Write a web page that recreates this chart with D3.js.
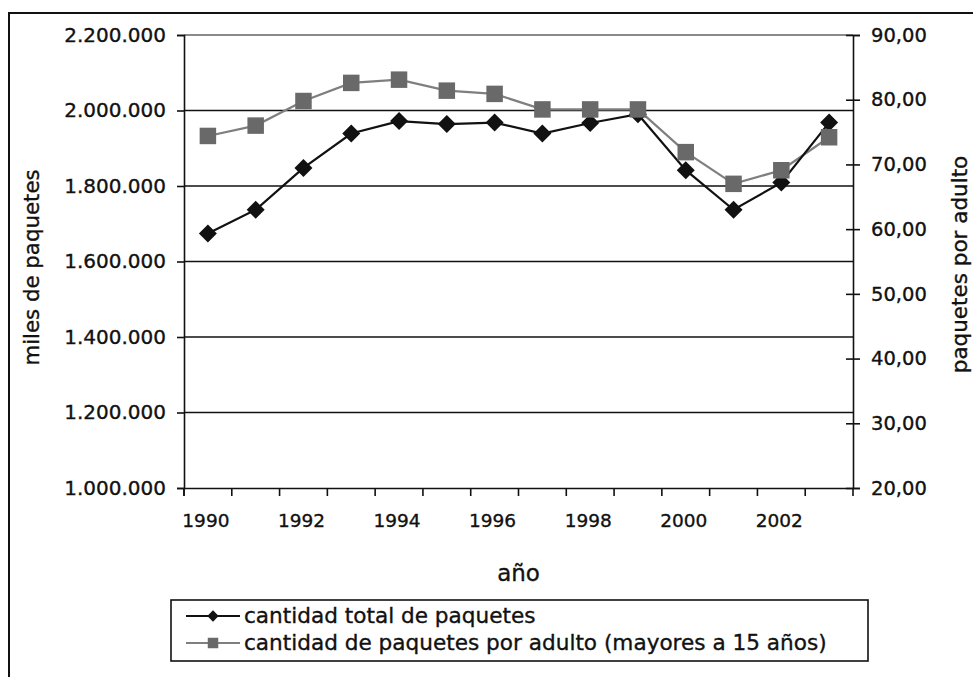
<!DOCTYPE html>
<html>
<head>
<meta charset="utf-8">
<script src="https://cdn.jsdelivr.net/npm/d3@7"></script>
<style>
  html, body { margin: 0; padding: 0; background: #fff; }
  svg { display: block; font-family: "DejaVu Sans", sans-serif; }
  text { stroke: #111; stroke-width: 0.35px; }
</style>
</head>
<body>
<svg id="chart" width="973" height="677"></svg>
<script>
const years = [1990,1991,1992,1993,1994,1995,1996,1997,1998,1999,2000,2001,2002,2003];
const totalPackets = [1674000,1737000,1848000,1939000,1972000,1964000,1968000,1939000,1967000,1990000,1842000,1737000,1809000,1968000];
const packetsPerAdult = [74.4,76.0,79.8,82.6,83.1,81.4,80.9,78.5,78.5,78.5,71.9,67.0,69.1,74.2];
const leftTicks = [1000000,1200000,1400000,1600000,1800000,2000000,2200000];
const rightTicks = [20,30,40,50,60,70,80,90];
const xLabelYears = [1990,1992,1994,1996,1998,2000,2002];
const seriesNames = ["cantidad total de paquetes", "cantidad de paquetes por adulto (mayores a 15 años)"];

const FONT = "'DejaVu Sans', sans-serif";
const svg = d3.select("#chart");
const L = 184, R = 853, T = 35, B = 488;

// outer border
svg.append("path").attr("d", `M9,677 V13 H973`).attr("fill","none").attr("stroke","#111").attr("stroke-width",2);

const x = d3.scaleBand().domain(years).range([L, R]);
const yL = d3.scaleLinear().domain([1000000, 2200000]).range([B, T]);
const yR = d3.scaleLinear().domain([20, 90]).range([B, T]);

const fmtL = d => d3.format(",")(d).replace(/,/g, ".");
const fmtR = d => d3.format(".2f")(d).replace(".", ",");

// gridlines
svg.append("g").selectAll("line").data(leftTicks.filter(t => t > 1000000 && t < 2200000)).join("line")
  .attr("x1", L).attr("x2", R).attr("y1", d => yL(d)).attr("y2", d => yL(d))
  .attr("stroke", "#111").attr("stroke-width", 1.6);
// top border gray
svg.append("line").attr("x1", L).attr("x2", R).attr("y1", T).attr("y2", T)
  .attr("stroke", "#8a8a8a").attr("stroke-width", 2);

// left axis
const gL = svg.append("g").attr("transform", `translate(${L},0)`)
  .call(d3.axisLeft(yL).tickValues(leftTicks).tickFormat(fmtL).tickSizeOuter(0).tickSize(7).tickPadding(11));
// right axis
const gR = svg.append("g").attr("transform", `translate(${R},0)`)
  .call(d3.axisRight(yR).tickValues(rightTicks).tickFormat(fmtR).tickSizeOuter(0).tickSize(7).tickPadding(11));
gR.selectAll(".tick line").attr("x1", -7);
// bottom axis
const gB = svg.append("g").attr("transform", `translate(0,${B})`)
  .call(d3.axisBottom(x).tickSizeOuter(0).tickSize(0).tickFormat(d => xLabelYears.includes(d) ? d : "").tickPadding(26));
gB.selectAll(".tick text").attr("dx", -2);
// category boundary ticks
const bounds = years.map(d => x(d)).concat([R]);
svg.append("g").selectAll("line").data(bounds).join("line")
  .attr("x1", d => d).attr("x2", d => d).attr("y1", B).attr("y2", B + 8)
  .attr("stroke", "#111").attr("stroke-width", 1.6);

[gL, gR, gB].forEach(g => {
  g.selectAll(".domain").attr("stroke", "#111").attr("stroke-width", 1.6);
  g.selectAll(".tick line").attr("stroke", "#111").attr("stroke-width", 1.6);
  g.selectAll(".tick text").attr("fill", "#111").style("font-family", FONT);
});
gL.selectAll(".tick text").style("font-size", "20px");
gR.selectAll(".tick text").style("font-size", "19.5px");
gB.selectAll(".tick text").style("font-size", "18.5px");
svg.append("line").attr("x1", L).attr("x2", L).attr("y1", B).attr("y2", B + 8).attr("stroke", "#111").attr("stroke-width", 1.6);

// axis titles
svg.append("text").attr("transform", `translate(39,${(T+B)/2+6}) rotate(-90)`)
  .attr("text-anchor","middle").style("font-size","21.3px").style("font-family",FONT).attr("fill","#111").text("miles de paquetes");
svg.append("text").attr("transform", `translate(967,${(T+B)/2+3}) rotate(-90)`)
  .attr("text-anchor","middle").style("font-size","21.5px").style("font-family",FONT).attr("fill","#111").text("paquetes por adulto");
svg.append("text").attr("x", (L+R)/2).attr("y", 581)
  .attr("text-anchor","middle").style("font-size","23px").style("font-family",FONT).attr("fill","#111").text("año");

const cx = d => x(d) + x.bandwidth()/2;

// gray series
svg.append("path").datum(years.map((d,i)=>[cx(d), yR(packetsPerAdult[i])]))
  .attr("d", d3.line()).attr("fill","none").attr("stroke","#7f7f7f").attr("stroke-width",2.2);
// black series
svg.append("path").datum(years.map((d,i)=>[cx(d), yL(totalPackets[i])]))
  .attr("d", d3.line()).attr("fill","none").attr("stroke","#111").attr("stroke-width",2.2);

svg.append("g").selectAll("path").data(years).join("path")
  .attr("transform", (d,i) => `translate(${cx(d)},${yL(totalPackets[i])}) rotate(45)`)
  .attr("d", d3.symbol().type(d3.symbolSquare).size(162)).attr("fill","#111");
svg.append("g").selectAll("path").data(years).join("path")
  .attr("transform", (d,i) => `translate(${cx(d)},${yR(packetsPerAdult[i])})`)
  .attr("d", d3.symbol().type(d3.symbolSquare).size(272)).attr("fill","#696969");

// legend
const lg = svg.append("g");
lg.append("rect").attr("x",171).attr("y",600).attr("width",697).attr("height",61)
  .attr("fill","#fff").attr("stroke","#111").attr("stroke-width",1.6);
const rows = [
  {name: seriesNames[0], y: 616, stroke: "#111", fill: "#111", type: "d"},
  {name: seriesNames[1], y: 643, stroke: "#7f7f7f", fill: "#696969", type: "s"}
];
rows.forEach(r => {
  lg.append("line").attr("x1",186).attr("x2",240).attr("y1",r.y).attr("y2",r.y).attr("stroke",r.stroke).attr("stroke-width",2);
  if (r.type === "d") {
    lg.append("path").attr("transform",`translate(213,${r.y}) rotate(45)`).attr("d", d3.symbol().type(d3.symbolSquare).size(64)).attr("fill", r.fill);
  } else {
    lg.append("path").attr("transform",`translate(213,${r.y})`).attr("d", d3.symbol().type(d3.symbolSquare).size(110)).attr("fill", r.fill);
  }
  lg.append("text").attr("x",244).attr("y",r.y+7).style("font-size","21.6px").style("font-family",FONT).attr("fill","#111").text(r.name);
});
</script>
</body>
</html>
